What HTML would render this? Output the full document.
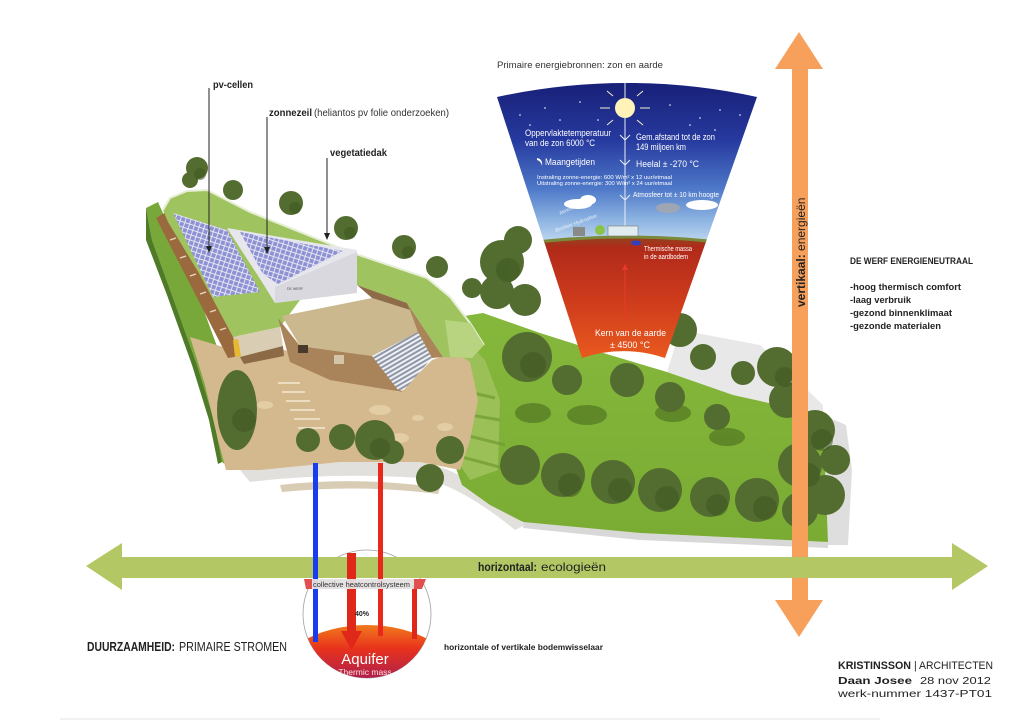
<!DOCTYPE html>
<html><head><meta charset="utf-8"><style>
html,body{margin:0;padding:0;background:#fff;width:1024px;height:723px;overflow:hidden;}
svg{display:block;}
text{font-family:"Liberation Sans",sans-serif;}
</style></head><body>
<svg width="1024" height="723" viewBox="0 0 1024 723" xmlns="http://www.w3.org/2000/svg">
<defs>
<linearGradient id="sky" x1="0" y1="83" x2="0" y2="245" gradientUnits="userSpaceOnUse">
<stop offset="0" stop-color="#182078"/>
<stop offset="0.35" stop-color="#26399e"/>
<stop offset="0.65" stop-color="#4d78c8"/>
<stop offset="0.85" stop-color="#8fb5e2"/>
<stop offset="1" stop-color="#c4dcf0"/>
</linearGradient>
<linearGradient id="earth" x1="0" y1="235" x2="0" y2="360" gradientUnits="userSpaceOnUse">
<stop offset="0" stop-color="#8a4a20"/>
<stop offset="0.1" stop-color="#b02a1a"/>
<stop offset="0.5" stop-color="#cc3a1c"/>
<stop offset="1" stop-color="#ea5a1e"/>
</linearGradient>
<clipPath id="cone"><path d="M497,97 A610,610 0 0 1 757,97 L665,358 A128,128 0 0 0 582,358 Z"/></clipPath>
<clipPath id="circ"><circle cx="367" cy="614" r="64"/></clipPath>
<linearGradient id="aq" x1="0" y1="625" x2="0" y2="678" gradientUnits="userSpaceOnUse">
<stop offset="0" stop-color="#f07a1c"/>
<stop offset="0.45" stop-color="#e8321c"/>
<stop offset="1" stop-color="#b0204c"/>
</linearGradient>
<linearGradient id="grass" x1="0" y1="310" x2="0" y2="540" gradientUnits="userSpaceOnUse">
<stop offset="0" stop-color="#86b83c"/>
<stop offset="1" stop-color="#7aac34"/>
</linearGradient>
<pattern id="panel" width="5" height="5" patternUnits="userSpaceOnUse" patternTransform="rotate(18)">
<rect width="5" height="5" fill="#e4e5f2"/><rect width="4" height="4" fill="#8e92d4"/>
</pattern>
<pattern id="stairs" width="6" height="4" patternUnits="userSpaceOnUse" patternTransform="rotate(-30)">
<rect width="6" height="4" fill="#eef0f4"/><rect width="6" height="2" fill="#8e96a8"/>
</pattern>
</defs>

<!-- shadows -->
<polygon points="823,415 846,425 852,470 848,545 828,545" fill="#dedede"/>
<polygon points="680,330 760,345 823,405 823,415 733,395 667,372" fill="#e8e8e8"/>
<polygon points="523,522 640,533 828,542 828,548 640,540 523,528" fill="#d8d8d8"/>
<path d="M240,470 Q330,458 420,462 Q470,470 525,525 L515,530 Q460,485 420,478 Q330,472 250,482 Z" fill="#e2e0dc"/>
<path d="M280,485 Q360,476 440,488 L438,494 Q360,484 282,492 Z" fill="#d8ccb4"/>

<!-- left green strip -->
<polygon points="146,208 158,202 175,240 200,300 222,360 235,430 232,470 222,462 214,420 197,365 172,295 152,240" fill="#78a83a"/>
<polygon points="146,208 152,240 172,295 197,365 214,420 222,462 218,464 209,420 192,365 167,295 146,240" fill="#4f7a26"/>

<!-- grass field -->
<polygon points="452,318 483,313 540,333 600,352 667,372 733,395 823,415 828,542 640,533 523,522 490,505 462,485 446,440 450,360" fill="url(#grass)"/>
<polygon points="445,355 470,345 485,360 500,400 498,470 470,480 450,450" fill="#9cc058"/>
<g stroke="#6f9a33" stroke-width="3" opacity="0.7">
<line x1="440" y1="410" x2="500" y2="420"/><line x1="445" y1="430" x2="505" y2="445"/><line x1="455" y1="455" x2="510" y2="470"/><line x1="460" y1="390" x2="495" y2="398"/>
</g>

<!-- plaza -->
<polygon points="190,337 240,352 285,350 330,378 400,392 432,360 455,352 470,362 478,400 470,440 460,470 420,462 390,462 340,462 300,466 260,470 226,470 218,440 205,385" fill="#d5b98e"/>
<g fill="#e2cda4">
<ellipse cx="373" cy="358" rx="12" ry="6"/><ellipse cx="380" cy="410" rx="11" ry="5"/><ellipse cx="400" cy="438" rx="9" ry="5"/><ellipse cx="445" cy="427" rx="8" ry="4"/><ellipse cx="418" cy="418" rx="6" ry="3"/><ellipse cx="265" cy="405" rx="8" ry="4"/>
</g>
<g stroke="#ecdcc0" stroke-width="2">
<line x1="278" y1="383" x2="300" y2="383"/><line x1="282" y1="392" x2="305" y2="392"/><line x1="286" y1="401" x2="310" y2="401"/><line x1="290" y1="410" x2="315" y2="410"/><line x1="294" y1="419" x2="320" y2="419"/><line x1="298" y1="428" x2="325" y2="428"/>
</g>

<!-- trees behind the roof -->
<g fill="#536c30">
<circle cx="197" cy="168" r="11"/><circle cx="190" cy="180" r="8"/>
<circle cx="233" cy="190" r="10"/><circle cx="291" cy="203" r="12"/><circle cx="346" cy="228" r="12"/>
<circle cx="404" cy="247" r="12"/><circle cx="437" cy="267" r="11"/><circle cx="472" cy="288" r="10"/>
<circle cx="502" cy="262" r="22"/><circle cx="497" cy="292" r="17"/><circle cx="518" cy="240" r="14"/><circle cx="525" cy="300" r="16"/>
</g>
<g fill="#3f5a22" opacity="0.6">
<circle cx="200" cy="174" r="6"/><circle cx="295" cy="208" r="6"/><circle cx="350" cy="233" r="6"/><circle cx="408" cy="252" r="6"/><circle cx="508" cy="270" r="12"/>
</g>

<!-- building: brown left facade -->
<polygon points="156,218 166,212 238,338 240,356 228,358" fill="#9a6a3e"/>
<g stroke="#e8dcc4" stroke-width="1.2">
<line x1="170" y1="240" x2="176" y2="238"/><line x1="180" y1="258" x2="186" y2="256"/><line x1="190" y1="276" x2="196" y2="274"/><line x1="200" y1="294" x2="206" y2="292"/><line x1="210" y1="312" x2="216" y2="310"/><line x1="220" y1="330" x2="226" y2="328"/>
</g>
<!-- green roof -->
<polygon points="163,210 170,198 187,191 207,190 250,212 350,252 427,278 450,297 470,323 484,345 472,358 443,357 407,303 357,285 300,300 280,327 233,337 200,275 168,222" fill="#9fc45f"/>
<polyline points="163,210 170,198 187,191 207,190 250,212 350,252 427,278 450,297 470,323 484,345" fill="none" stroke="#e6eed6" stroke-width="2"/>
<polygon points="445,320 470,323 484,345 472,358 450,357" fill="#b8d480"/>
<!-- left wing front -->
<polygon points="233,337 280,327 283,346 240,357" fill="#d9cdb3"/>
<polygon points="233,340 238,339 241,356 235,357" fill="#e8b830"/>
<polygon points="240,357 283,346 284,356 244,364" fill="#8b6a45"/>
<!-- white building -->
<polygon points="227,228 357,250 357,293 275,303 262,282" fill="#e6e6ec"/>
<polygon points="275,287 357,252 357,293 275,303" fill="#d8d8de"/>
<polygon points="240,232 343,251 278,284 263,274" fill="url(#panel)"/>
<polygon points="173,213 227,230 260,292 213,297" fill="url(#panel)"/>
<text x="287" y="290" font-size="3.5" fill="#555">DE WERF</text>
<!-- courtyard -->
<polygon points="282,316 372,298 410,310 420,332 372,356 300,346" fill="#cbb88f"/>
<polygon points="278,318 300,346 372,356 402,392 330,380 290,362" fill="#a9835a"/>
<rect x="298" y="345" width="10" height="8" fill="#4a3a2c"/>
<rect x="334" y="355" width="10" height="9" fill="#d4c4a8"/>
<polygon points="372,356 418,332 432,358 404,390 398,390" fill="url(#stairs)"/>
<polygon points="407,303 443,357 432,358 418,332 410,310" fill="#a98558"/>
<polygon points="357,285 407,303 410,310 372,298" fill="#8f6c48"/>

<!-- field tree shadows -->
<g fill="#557a24" opacity="0.75">
<ellipse cx="533" cy="413" rx="18" ry="10"/><ellipse cx="587" cy="415" rx="20" ry="10"/><ellipse cx="673" cy="413" rx="18" ry="9"/><ellipse cx="727" cy="437" rx="18" ry="9"/>
</g>

<!-- trees in front -->
<g fill="#536c30">
<ellipse cx="237" cy="410" rx="20" ry="40"/>
<circle cx="308" cy="440" r="12"/><circle cx="342" cy="437" r="13"/><circle cx="375" cy="440" r="20"/><circle cx="392" cy="452" r="12"/>
<circle cx="450" cy="450" r="14"/><circle cx="430" cy="478" r="14"/>
<circle cx="527" cy="357" r="25"/><circle cx="567" cy="380" r="15"/><circle cx="627" cy="380" r="17"/><circle cx="670" cy="397" r="15"/><circle cx="717" cy="417" r="13"/>
<circle cx="680" cy="330" r="17"/><circle cx="703" cy="357" r="13"/><circle cx="743" cy="373" r="12"/><circle cx="777" cy="367" r="20"/>
<circle cx="520" cy="465" r="20"/><circle cx="563" cy="475" r="22"/><circle cx="613" cy="482" r="22"/><circle cx="660" cy="490" r="22"/><circle cx="710" cy="497" r="20"/><circle cx="757" cy="500" r="22"/>
<circle cx="787" cy="400" r="18"/><circle cx="815" cy="430" r="20"/><circle cx="800" cy="465" r="22"/><circle cx="825" cy="495" r="20"/><circle cx="835" cy="460" r="15"/><circle cx="800" cy="510" r="18"/>
</g>
<g fill="#3f5822" opacity="0.55">
<circle cx="244" cy="420" r="12"/><circle cx="380" cy="448" r="10"/><circle cx="533" cy="365" r="13"/><circle cx="570" cy="485" r="12"/><circle cx="620" cy="490" r="12"/><circle cx="667" cy="498" r="12"/><circle cx="717" cy="505" r="11"/><circle cx="765" cy="508" r="12"/><circle cx="822" cy="440" r="11"/><circle cx="808" cy="475" r="12"/><circle cx="785" cy="377" r="10"/>
</g>

<!-- cone -->
<g clip-path="url(#cone)">
<rect x="490" y="70" width="280" height="180" fill="url(#sky)"/>
<path d="M520,244 Q627,230 735,244 L735,400 L520,400 Z" fill="url(#earth)"/>
<path d="M520,244 Q627,230 735,244" fill="none" stroke="#7a8a3a" stroke-width="3"/>
<g fill="#ffffff">
<circle cx="520" cy="115" r="0.8"/><circle cx="545" cy="108" r="0.8"/><circle cx="560" cy="120" r="0.8"/><circle cx="580" cy="102" r="0.8"/><circle cx="670" cy="105" r="0.8"/><circle cx="700" cy="118" r="0.8"/><circle cx="720" cy="110" r="0.8"/><circle cx="690" cy="125" r="0.8"/><circle cx="740" cy="115" r="0.8"/><circle cx="530" cy="125" r="0.8"/><circle cx="598" cy="120" r="0.8"/><circle cx="715" cy="130" r="0.8"/>
</g>
<line x1="625" y1="83" x2="625" y2="236" stroke="#e8eef8" stroke-width="1"/>
<g stroke="#f4f0d0" stroke-width="1">
<line x1="600" y1="108" x2="610" y2="108"/><line x1="640" y1="108" x2="650" y2="108"/>
<line x1="613" y1="96" x2="607" y2="91"/><line x1="637" y1="96" x2="643" y2="91"/>
<line x1="613" y1="120" x2="607" y2="125"/><line x1="637" y1="120" x2="643" y2="125"/>
</g>
<circle cx="625" cy="108" r="10" fill="#fff3b8"/>
<g fill="none" stroke="#e8eef8" stroke-width="1">
<polyline points="620,135 625,140 630,135"/><polyline points="620,160 625,165 630,160"/><polyline points="620,195 625,200 630,195"/>
</g>
<g fill="#ffffff">
<ellipse cx="578" cy="204" rx="14" ry="5"/><ellipse cx="588" cy="200" rx="8" ry="5"/>
<ellipse cx="702" cy="205" rx="16" ry="5"/>
</g>
<ellipse cx="668" cy="208" rx="12" ry="5" fill="#9ea6b4"/>
<rect x="573" y="227" width="12" height="9" fill="#8a8a8a"/>
<circle cx="600" cy="230" r="5" fill="#8bc34a"/>
<rect x="608" y="226" width="30" height="10" fill="#e0ecf0" stroke="#777" stroke-width="0.6"/>
<ellipse cx="636" cy="243" rx="5" ry="2.5" fill="#3040c0"/>
<line x1="625" y1="266" x2="625" y2="320" stroke="#e83a2a" stroke-width="1"/>
<polygon points="622,270 625,264 628,270" fill="#e83a2a"/>
</g>
<g fill="#ffffff">
<text x="525" y="136" font-size="9" textLength="86" lengthAdjust="spacingAndGlyphs">Oppervlaktetemperatuur</text>
<text x="525" y="146" font-size="9" textLength="70" lengthAdjust="spacingAndGlyphs">van de zon 6000 °C</text>
<text x="636" y="140" font-size="9" textLength="79" lengthAdjust="spacingAndGlyphs">Gem.afstand tot de zon</text>
<text x="636" y="150" font-size="9" textLength="50" lengthAdjust="spacingAndGlyphs">149 miljoen km</text>
<text x="545" y="165" font-size="9.5" textLength="50" lengthAdjust="spacingAndGlyphs">Maangetijden</text>
<text x="636" y="167" font-size="9.5" textLength="63" lengthAdjust="spacingAndGlyphs">Heelal  ± -270 °C</text>
<text x="537" y="179" font-size="5.5" textLength="135" lengthAdjust="spacingAndGlyphs">Instraling zonne-energie: 600 W/m² x 12 uur/etmaal</text>
<text x="537" y="185" font-size="5.5" textLength="135" lengthAdjust="spacingAndGlyphs">Uitstraling zonne-energie: 300 W/m² x 24 uur/etmaal</text>
<text x="633" y="197" font-size="7" textLength="86" lengthAdjust="spacingAndGlyphs">Atmosfeer tot ± 10 km hoogte</text>
<text x="644" y="251" font-size="7" textLength="48" lengthAdjust="spacingAndGlyphs">Thermische massa</text>
<text x="644" y="259" font-size="7" textLength="44" lengthAdjust="spacingAndGlyphs">in de aardbodem</text>
<text x="595" y="336" font-size="9.5" textLength="71" lengthAdjust="spacingAndGlyphs">Kern van de aarde</text>
<text x="610" y="348" font-size="9.5" textLength="40" lengthAdjust="spacingAndGlyphs">± 4500 °C</text>
<text x="560" y="215" font-size="5" transform="rotate(-25 560 215)" opacity="0.8">Atmosfeer</text>
<text x="556" y="232" font-size="5" transform="rotate(-20 556 232)" opacity="0.8">Biosfeer  Hydrosfeer</text>
</g>
<path d="M537,158 Q543,159 542,166 Q541,161 537,160 Z" fill="#ffffff"/>
<text x="497" y="68" font-size="9" fill="#333" textLength="166" lengthAdjust="spacingAndGlyphs">Primaire energiebronnen: zon en aarde</text>

<!-- orange vertical arrow -->
<polygon points="799,32 823,69 808,69 808,600 823,600 799,637 775,600 792,600 792,69 775,69" fill="#f6a05c"/>
<text transform="translate(805 307) rotate(-90)" font-size="12" fill="#222"><tspan font-weight="bold">vertikaal:</tspan><tspan> energieën</tspan></text>

<!-- annotation lines -->
<g stroke="#222" stroke-width="1" fill="#222">
<line x1="209" y1="88" x2="209" y2="250"/><polygon points="206,246 209,253 212,246" stroke="none"/>
<line x1="267" y1="117" x2="267" y2="251"/><polygon points="264,247 267,254 270,247" stroke="none"/>
<line x1="327" y1="158" x2="327" y2="237"/><polygon points="324,233 327,240 330,233" stroke="none"/>
</g>
<text x="213" y="88" font-size="10" font-weight="bold" fill="#222" textLength="40" lengthAdjust="spacingAndGlyphs">pv-cellen</text>
<text x="269" y="116" font-size="10" font-weight="bold" fill="#222" textLength="43" lengthAdjust="spacingAndGlyphs">zonnezeil</text>
<text x="314" y="116" font-size="10" fill="#333" textLength="135" lengthAdjust="spacingAndGlyphs">(heliantos pv folie onderzoeken)</text>
<text x="330" y="156" font-size="10" font-weight="bold" fill="#222" textLength="57" lengthAdjust="spacingAndGlyphs">vegetatiedak</text>

<!-- right text block -->
<g fill="#222" font-weight="bold" font-size="9.5">
<text x="850" y="264" textLength="123" lengthAdjust="spacingAndGlyphs">DE WERF ENERGIENEUTRAAL</text>
<text x="850" y="290" textLength="111" lengthAdjust="spacingAndGlyphs">-hoog thermisch comfort</text>
<text x="850" y="303" textLength="61" lengthAdjust="spacingAndGlyphs">-laag verbruik</text>
<text x="850" y="316" textLength="102" lengthAdjust="spacingAndGlyphs">-gezond binnenklimaat</text>
<text x="850" y="329" textLength="91" lengthAdjust="spacingAndGlyphs">-gezonde materialen</text>
</g>

<!-- aquifer circle -->
<circle cx="367" cy="614" r="64" fill="#ffffff" stroke="#a0a0a0" stroke-width="0.8"/>
<g clip-path="url(#circ)">
<ellipse cx="367" cy="682" rx="92" ry="57" fill="url(#aq)"/>
</g>

<!-- green horizontal arrow -->
<polygon points="86,566 122,543 122,557 952,557 952,543 988,566 952,590 952,578 122,578 122,590" fill="#b3c864"/>
<text x="478" y="571" font-size="12" font-weight="bold" fill="#222" textLength="59" lengthAdjust="spacingAndGlyphs">horizontaal:</text>
<text x="541" y="571" font-size="12" fill="#222" textLength="65" lengthAdjust="spacingAndGlyphs">ecologieën</text>

<!-- pipes -->
<rect x="313" y="463" width="5" height="179" fill="#1a3cf0"/>
<rect x="378" y="463" width="5" height="173" fill="#e8281c"/>
<rect x="347" y="553" width="9" height="80" fill="#e0281a"/>
<polygon points="341,631 362,631 351.5,650" fill="#e0281a"/>
<rect x="412" y="585" width="5" height="54" fill="#e0281a"/>
<rect x="309" y="579" width="111" height="10" fill="#e4e0e0" opacity="0.95"/>
<polygon points="304,579 312,579 312,589 306,589" fill="#e05050"/>
<polygon points="414,579 426,579 422,589 414,589" fill="#e05050"/>
<text x="313" y="587" font-size="7.5" fill="#333" textLength="97" lengthAdjust="spacingAndGlyphs">collective heatcontrolsysteem</text>
<text x="355" y="616" font-size="7" font-weight="bold" fill="#222">40%</text>
<text x="365" y="664" font-size="15" fill="#ffffff" text-anchor="middle">Aquifer</text>
<text x="365" y="675" font-size="8.5" fill="#fde0e0" text-anchor="middle">Thermic mass</text>

<!-- bottom-left labels -->
<text x="87" y="651" font-size="12.5" font-weight="bold" fill="#222" textLength="88" lengthAdjust="spacingAndGlyphs">DUURZAAMHEID:</text>
<text x="179" y="651" font-size="12.5" fill="#222" textLength="108" lengthAdjust="spacingAndGlyphs">PRIMAIRE STROMEN</text>
<text x="444" y="650" font-size="8.5" font-weight="bold" fill="#222" textLength="159" lengthAdjust="spacingAndGlyphs">horizontale of vertikale bodemwisselaar</text>

<!-- credits -->
<text x="838" y="669" font-size="11" font-weight="bold" fill="#222" textLength="73" lengthAdjust="spacingAndGlyphs">KRISTINSSON</text>
<text x="914" y="669" font-size="11" fill="#222" textLength="79" lengthAdjust="spacingAndGlyphs">| ARCHITECTEN</text>
<text x="838" y="684" font-size="10" font-weight="bold" fill="#222" textLength="74" lengthAdjust="spacingAndGlyphs">Daan Josee</text>
<text x="920" y="684" font-size="10" fill="#222" textLength="71" lengthAdjust="spacingAndGlyphs">28 nov 2012</text>
<text x="838" y="697" font-size="10" fill="#222" textLength="154" lengthAdjust="spacingAndGlyphs">werk-nummer 1437-PT01</text>
<line x1="60" y1="719" x2="880" y2="719" stroke="#e4e4e4" stroke-width="1"/>
</svg>
</body></html>
